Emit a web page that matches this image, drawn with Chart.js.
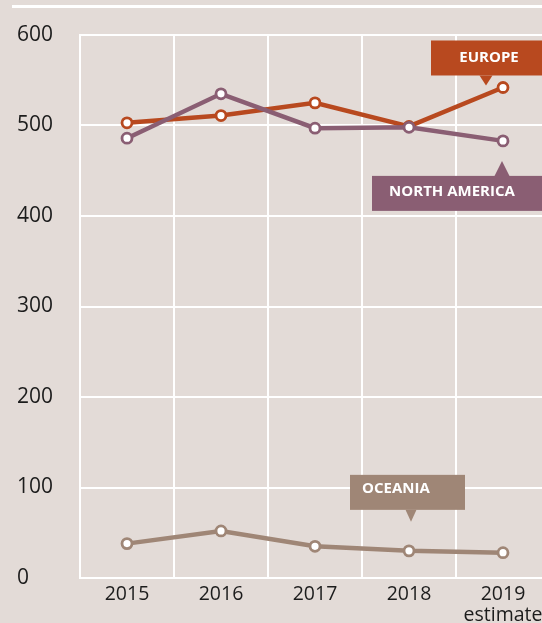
<!DOCTYPE html>
<html>
<head>
<meta charset="utf-8">
<script src="https://cdn.jsdelivr.net/npm/chart.js@4"></script>
<style>
  html, body { margin: 0; padding: 0; background: #e3dbd7; }
  #wrap { position: relative; width: 542px; height: 623px; overflow: hidden; background: #e3dbd7; }
  #topRule { position: absolute; left: 12px; right: 0; top: 5px; height: 3px; background: #ffffff; }
  canvas { position: absolute; left: 0; top: 0; }
</style>
</head>
<body>
<div id="wrap">
  <div id="topRule"></div>
  <canvas id="chart" width="560" height="623"></canvas>
</div>
<script>
// data
const years = ['2015', '2016', '2017', '2018', ['2019', 'estimate']];
const europe = [503, 511, 525, 499, 542];
const northAmerica = [486, 535, 497, 498, 483];
const oceania = [38, 52, 35, 30, 28];
const yMin = 0;
const yMax = 600;
const yStep = 100;

const europeColor = '#b8491f';
const naColor = '#8a5e73';
const oceaniaColor = '#9f8676';

// label boxes, placed relative to one point of a series
const seriesLabels = [
    { dataset: 0, index: 4, text: 'EUROPE', color: europeColor,
      boxX: -72, boxY: -47, boxW: 160, boxH: 35, textX: -14, textY: -30,
      tipX: -17, tipY: -2, tipHalf: 6.5, tipSide: 'below' },
    { dataset: 1, index: 4, text: 'NORTH AMERICA', color: naColor,
      boxX: -131, boxY: 35, boxW: 200, boxH: 35, textX: -51, textY: 51,
      tipX: -1, tipY: 20, tipHalf: 7.5, tipSide: 'above' },
    { dataset: 2, index: 3, text: 'OCEANIA', color: oceaniaColor,
      boxX: -59, boxY: -76, boxW: 115, boxH: 35, textX: -13, textY: -62,
      tipX: 2, tipY: -29, tipHalf: 5.5, tipSide: 'below' }
];

const labelPlugin = {
    id: 'seriesLabels',
    afterDatasetsDraw(chart) {
        const ctx = chart.ctx;
        ctx.save();
        seriesLabels.forEach(l => {
            const pt = chart.getDatasetMeta(l.dataset).data[l.index];
            const x0 = pt.x + l.boxX;
            const y0 = pt.y + l.boxY;
            ctx.fillStyle = l.color;
            ctx.fillRect(x0, y0, l.boxW, l.boxH);
            // pointer
            const tx = pt.x + l.tipX;
            const ty = pt.y + l.tipY;
            const baseY = l.tipSide === 'below' ? y0 + l.boxH : y0;
            ctx.beginPath();
            ctx.moveTo(tx - l.tipHalf, baseY);
            ctx.lineTo(tx + l.tipHalf, baseY);
            ctx.lineTo(tx, ty);
            ctx.closePath();
            ctx.fill();
            ctx.fillStyle = '#ffffff';
            ctx.font = 'bold 15px "Open Sans"';
            ctx.textAlign = 'center';
            ctx.textBaseline = 'middle';
            ctx.fillText(l.text, pt.x + l.textX, pt.y + l.textY);
        });
        ctx.restore();
    }
};

function lineSet(label, values, color, order) {
    return {
        label: label,
        data: values,
        borderColor: color,
        backgroundColor: color,
        borderWidth: 4.5,
        pointRadius: 5,
        pointBorderWidth: 2.8,
        pointBackgroundColor: '#ffffff',
        pointBorderColor: color,
        tension: 0,
        order: order
    };
}

const config = {
    type: 'line',
    data: {
        labels: years,
        datasets: [
            lineSet('Europe', europe, europeColor, 1),
            lineSet('North America', northAmerica, naColor, 0),
            lineSet('Oceania', oceania, oceaniaColor, 2)
        ]
    },
    options: {
        responsive: false,
        animation: false,
        layout: { padding: { left: 17, top: 35, right: 10, bottom: 0 } },
        plugins: { legend: { display: false }, tooltip: { enabled: false } },
        scales: {
            x: {
                offset: true,
                grid: { offset: true, color: '#ffffff', lineWidth: 2, drawTicks: false },
                border: { color: '#ffffff', width: 2 },
                ticks: {
                    color: '#1c1c1c',
                    padding: 6,
                    font: { family: '"Open Sans"', size: 19.5, lineHeight: 1.08 }
                },
                afterFit: s => { s.height = 45; }
            },
            y: {
                min: yMin,
                max: yMax,
                grid: { color: '#ffffff', lineWidth: 2, drawTicks: false },
                border: { color: '#ffffff', width: 2 },
                ticks: {
                    stepSize: yStep,
                    color: '#1c1c1c',
                    crossAlign: 'far',
                    padding: 0,
                    font: { family: '"Open Sans"', size: 21 }
                },
                afterFit: s => { s.width = 63; }
            }
        }
    },
    plugins: [labelPlugin]
};

let myChart = new Chart(document.getElementById('chart'), config);
</script>
</body>
</html>
